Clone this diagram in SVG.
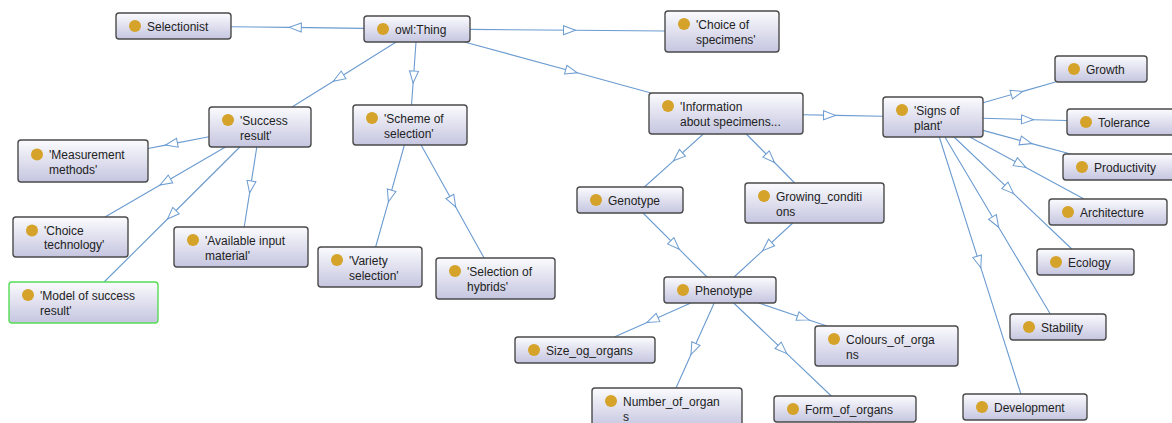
<svg xmlns="http://www.w3.org/2000/svg" width="1172" height="423" viewBox="0 0 1172 423">
<defs>
<linearGradient id="nodeFill" x1="0" y1="0" x2="0" y2="1">
<stop offset="0" stop-color="#fbfbfe"/>
<stop offset="1" stop-color="#c5c5e0"/>
</linearGradient>
<marker id="tri" viewBox="-13 -6 14 12" refX="0" refY="0" markerWidth="14" markerHeight="12" markerUnits="userSpaceOnUse" orient="auto">
<path d="M0,0 L-12,-4.5 L-12,4.5 Z" fill="#ffffff" stroke="#6b9bd0" stroke-width="1"/>
</marker>
</defs>
<style>
.edge{fill:none;stroke:#6b9bd0;stroke-width:1.1;marker-mid:url(#tri)}
.box{fill:url(#nodeFill);stroke:#4a4a4a;stroke-width:1.4}
.sel{fill:url(#nodeFill);stroke:#55dd55;stroke-width:1.4}
.dot{fill:#d5a22a}
.lbl{font-family:"Liberation Sans",Arial,sans-serif;font-size:12px;fill:#222222}
</style>
<rect x="0" y="0" width="1172" height="423" fill="#ffffff"/>
<g id="connectors">
<path class="edge" d="M364,28.4 L289.3,27.4 L231,26.7"/>
<path class="edge" d="M470,29.4 L575.5,30.3 L665,31"/>
<path class="edge" d="M396.2,42 L333.4,81.2 L292,107"/>
<path class="edge" d="M416,42 L413.1,83 L411.5,105"/>
<path class="edge" d="M464.5,42 L577.3,72.8 L651,93"/>
<path class="edge" d="M803,114.8 L835.5,115.4 L883,116.2"/>
<path class="edge" d="M703.3,134 L673.5,160.8 L644.4,187"/>
<path class="edge" d="M746.3,134 L774.5,162.5 L794.7,183"/>
<path class="edge" d="M643,213 L679.2,249.2 L707,277"/>
<path class="edge" d="M792.8,223 L762.8,250.6 L734.1,277"/>
<path class="edge" d="M690.8,303 L647,322.4 L614.3,337"/>
<path class="edge" d="M714.2,303 L691,354.5 L676,388"/>
<path class="edge" d="M733.7,303 L786.8,353.6 L831.3,396"/>
<path class="edge" d="M758.7,303 L808.9,319.9 L827,326"/>
<path class="edge" d="M209,136.8 L165.6,145.1 L148,148.5"/>
<path class="edge" d="M225.5,147 L160.1,185 L105,217"/>
<path class="edge" d="M239.9,147 L167.5,219 L104.1,282"/>
<path class="edge" d="M256.8,147 L249.6,192.9 L244.2,227"/>
<path class="edge" d="M404.4,145 L388.4,201.8 L375.6,247"/>
<path class="edge" d="M421.1,145 L455.7,207 L484.1,258"/>
<path class="edge" d="M983,102.7 L1022.8,91.4 L1055.5,82"/>
<path class="edge" d="M983,118.3 L1033.5,119.7 L1067,120.5"/>
<path class="edge" d="M983,130.4 L1031.8,143.6 L1070.6,154"/>
<path class="edge" d="M969.8,137 L1025.8,167.4 L1084,199"/>
<path class="edge" d="M954,137 L1013.6,193.6 L1071.8,249"/>
<path class="edge" d="M944.9,137 L998.6,227.2 L1050.3,314"/>
<path class="edge" d="M939.3,137 L980.8,267.7 L1020.9,394"/>
</g>
<g id="owl-thing" transform="translate(364,16)"><rect class="box" width="106" height="26" rx="3"/><circle class="dot" cx="19" cy="13" r="6"/><text class="lbl" x="31" y="17.5">owl:Thing</text></g>
<g id="selectionist" transform="translate(116,13)"><rect class="box" width="115" height="26" rx="3"/><circle class="dot" cx="19" cy="13" r="6"/><text class="lbl" x="31" y="17.5">Selectionist</text></g>
<g id="choice-of-specimens" transform="translate(665,11)"><rect class="box" width="114" height="41" rx="3"/><circle class="dot" cx="19" cy="13" r="6"/><text class="lbl" x="31" y="17.5">'Choice of</text><text class="lbl" x="31" y="32.5">specimens'</text></g>
<g id="success-result" transform="translate(209,107)"><rect class="box" width="102" height="40" rx="3"/><circle class="dot" cx="19" cy="13" r="6"/><text class="lbl" x="31" y="17.5">'Success</text><text class="lbl" x="31" y="32.5">result'</text></g>
<g id="scheme-of-selection" transform="translate(353,105)"><rect class="box" width="114" height="40" rx="3"/><circle class="dot" cx="19" cy="13" r="6"/><text class="lbl" x="31" y="17.5">'Scheme of</text><text class="lbl" x="31" y="32.5">selection'</text></g>
<g id="information-about-specimens" transform="translate(649,93)"><rect class="box" width="154" height="41" rx="3"/><circle class="dot" cx="19" cy="13" r="6"/><text class="lbl" x="31" y="17.5">'Information</text><text class="lbl" x="31" y="32.5">about specimens...</text></g>
<g id="measurement-methods" transform="translate(18,140)"><rect class="box" width="130" height="42" rx="3"/><circle class="dot" cx="19" cy="14.5" r="6"/><text class="lbl" x="31" y="19">'Measurement</text><text class="lbl" x="31" y="33.5">methods'</text></g>
<g id="choice-technology" transform="translate(13,217)"><rect class="box" width="115" height="40" rx="3"/><circle class="dot" cx="19" cy="13.5" r="6"/><text class="lbl" x="31" y="18">'Choice</text><text class="lbl" x="31" y="32">technology'</text></g>
<g id="available-input-material" transform="translate(174,227)"><rect class="box" width="134" height="40" rx="3"/><circle class="dot" cx="19" cy="13" r="6"/><text class="lbl" x="31" y="17.5">'Available input</text><text class="lbl" x="31" y="32.5">material'</text></g>
<g id="model-of-success-result" transform="translate(9,282)"><rect class="sel" width="149" height="41" rx="3"/><circle class="dot" cx="19" cy="13" r="6"/><text class="lbl" x="31" y="17.5">'Model of success</text><text class="lbl" x="31" y="32.5">result'</text></g>
<g id="variety-selection" transform="translate(318,247)"><rect class="box" width="104" height="40" rx="3"/><circle class="dot" cx="19" cy="13" r="6"/><text class="lbl" x="31" y="17.5">'Variety</text><text class="lbl" x="31" y="32.5">selection'</text></g>
<g id="selection-of-hybrids" transform="translate(436,258)"><rect class="box" width="119" height="41" rx="3"/><circle class="dot" cx="19" cy="13" r="6"/><text class="lbl" x="31" y="17.5">'Selection of</text><text class="lbl" x="31" y="32.5">hybrids'</text></g>
<g id="genotype" transform="translate(577,187)"><rect class="box" width="106" height="26" rx="3"/><circle class="dot" cx="19" cy="13" r="6"/><text class="lbl" x="31" y="17.5">Genotype</text></g>
<g id="growing-conditions" transform="translate(745,183)"><rect class="box" width="139" height="40" rx="3"/><circle class="dot" cx="19" cy="13" r="6"/><text class="lbl" x="31" y="17.5">Growing_conditi</text><text class="lbl" x="31" y="32.5">ons</text></g>
<g id="phenotype" transform="translate(664,277)"><rect class="box" width="112" height="26" rx="3"/><circle class="dot" cx="19" cy="13" r="6"/><text class="lbl" x="31" y="17.5">Phenotype</text></g>
<g id="size-og-organs" transform="translate(515,337)"><rect class="box" width="140" height="26" rx="3"/><circle class="dot" cx="19" cy="13" r="6"/><text class="lbl" x="31" y="17.5">Size_og_organs</text></g>
<g id="colours-of-organs" transform="translate(815,326)"><rect class="box" width="143" height="40" rx="3"/><circle class="dot" cx="19" cy="13" r="6"/><text class="lbl" x="31" y="17.5">Colours_of_orga</text><text class="lbl" x="31" y="32.5">ns</text></g>
<g id="number-of-organs" transform="translate(592,388)"><rect class="box" width="150" height="40" rx="3"/><circle class="dot" cx="19" cy="13" r="6"/><text class="lbl" x="31" y="17.5">Number_of_organ</text><text class="lbl" x="31" y="32.5">s</text></g>
<g id="form-of-organs" transform="translate(774,396)"><rect class="box" width="142" height="26" rx="3"/><circle class="dot" cx="19" cy="13" r="6"/><text class="lbl" x="31" y="17.5">Form_of_organs</text></g>
<g id="signs-of-plant" transform="translate(883,97)"><rect class="box" width="100" height="40" rx="3"/><circle class="dot" cx="19" cy="13" r="6"/><text class="lbl" x="31" y="17.5">'Signs of</text><text class="lbl" x="31" y="32.5">plant'</text></g>
<g id="growth" transform="translate(1055,56)"><rect class="box" width="92" height="26" rx="3"/><circle class="dot" cx="19" cy="13" r="6"/><text class="lbl" x="31" y="17.5">Growth</text></g>
<g id="tolerance" transform="translate(1067,109)"><rect class="box" width="110" height="26" rx="3"/><circle class="dot" cx="19" cy="13" r="6"/><text class="lbl" x="31" y="17.5">Tolerance</text></g>
<g id="productivity" transform="translate(1063,154)"><rect class="box" width="112" height="26" rx="3"/><circle class="dot" cx="19" cy="13" r="6"/><text class="lbl" x="31" y="17.5">Productivity</text></g>
<g id="architecture" transform="translate(1049,199)"><rect class="box" width="118" height="26" rx="3"/><circle class="dot" cx="19" cy="13" r="6"/><text class="lbl" x="31" y="17.5">Architecture</text></g>
<g id="ecology" transform="translate(1037,249)"><rect class="box" width="97" height="26" rx="3"/><circle class="dot" cx="19" cy="13" r="6"/><text class="lbl" x="31" y="17.5">Ecology</text></g>
<g id="stability" transform="translate(1010,314)"><rect class="box" width="96" height="26" rx="3"/><circle class="dot" cx="19" cy="13" r="6"/><text class="lbl" x="31" y="17.5">Stability</text></g>
<g id="development" transform="translate(963,394)"><rect class="box" width="124" height="26" rx="3"/><circle class="dot" cx="19" cy="13" r="6"/><text class="lbl" x="31" y="17.5">Development</text></g>
</svg>
